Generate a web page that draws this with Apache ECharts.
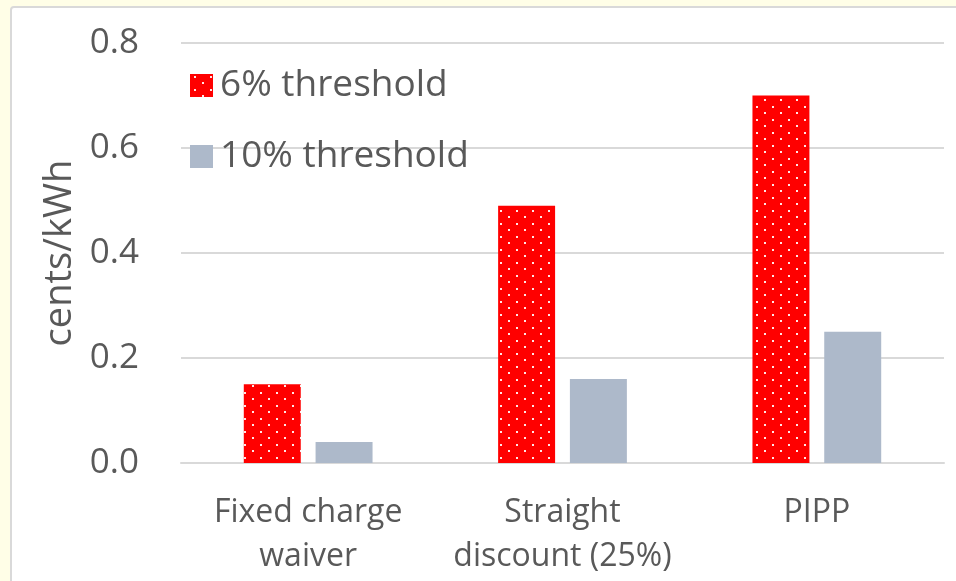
<!DOCTYPE html>
<html>
<head>
<meta charset="utf-8">
<script src="https://cdn.jsdelivr.net/npm/echarts@6/dist/echarts.min.js"></script>
<style>
  html, body { margin: 0; padding: 0; background: #FFFEE7; overflow: hidden; }
  .frame {
    position: absolute; left: 10px; top: 6px; width: 980px; height: 620px;
    background: #fff; border: 2px solid #d9d9d9; border-radius: 4px;
  }
  #chart { position: absolute; left: 0; top: 0; width: 956px; height: 581px; }
</style>
</head>
<body>
<div class="frame"></div>
<div id="chart"></div>
<script>
// categories + values
const categories = ['Fixed charge\nwaiver', 'Straight\ndiscount (25%)', 'PIPP']
const threshold6 = [0.15, 0.49, 0.70]
const threshold10 = [0.04, 0.16, 0.25]
const yTicks = [0, 0.2, 0.4, 0.6, 0.8]

// red fill with staggered white dots
function dotPattern() {
  const c = document.createElement('canvas')
  c.width = 16
  c.height = 13
  const ctx = c.getContext('2d')
  ctx.fillStyle = '#FF0000'
  ctx.fillRect(0, 0, 16, 13)
  ctx.fillStyle = 'rgba(255,255,255,0.9)'
  ctx.fillRect(4, 2, 2, 2)
  ctx.fillRect(12, 8, 2, 2)
  return c
}

const chart = echarts.init(document.getElementById('chart'))
const textColor = '#595959'
const font = '"Open Sans", sans-serif'
const redFill = { image: dotPattern(), repeat: 'repeat' }

const option = {
  animation: false,
  textStyle: { fontFamily: font },
  grid: { left: 181, right: 12, top: 43, bottom: 118 },
  legend: {
    orient: 'vertical',
    left: 185,
    top: 62,
    itemWidth: 23,
    itemHeight: 23,
    itemGap: 34,
    icon: 'rect',
    textStyle: { fontSize: 37, color: textColor, fontFamily: font, padding: [0, 0, 0, 2] },
    data: ['6% threshold', '10% threshold']
  },
  xAxis: {
    type: 'category',
    data: categories,
    axisTick: { show: false },
    axisLine: { lineStyle: { color: '#d9d9d9', width: 2 } },
    axisLabel: { interval: 0, fontSize: 32, lineHeight: 44, color: textColor, margin: 28, fontFamily: font }
  },
  yAxis: {
    type: 'value',
    min: yTicks[0],
    max: yTicks[yTicks.length - 1],
    interval: 0.2,
    name: 'cents/kWh',
    nameLocation: 'middle',
    nameGap: 100,
    nameTextStyle: { fontSize: 38, color: textColor, fontFamily: font },
    axisLabel: {
      fontSize: 35, color: textColor, margin: 42, fontFamily: font,
      formatter: v => v.toFixed(1)
    },
    splitLine: { lineStyle: { color: '#d9d9d9', width: 2 } }
  },
  series: [
    {
      name: '6% threshold',
      type: 'bar',
      data: threshold6,
      barWidth: '22.4%',
      barGap: '26%',
      itemStyle: { color: redFill }
    },
    {
      name: '10% threshold',
      type: 'bar',
      data: threshold10,
      barWidth: '22.4%',
      itemStyle: { color: '#ADB9CA' }
    }
  ]
}
chart.setOption(option)
</script>
</body>
</html>
